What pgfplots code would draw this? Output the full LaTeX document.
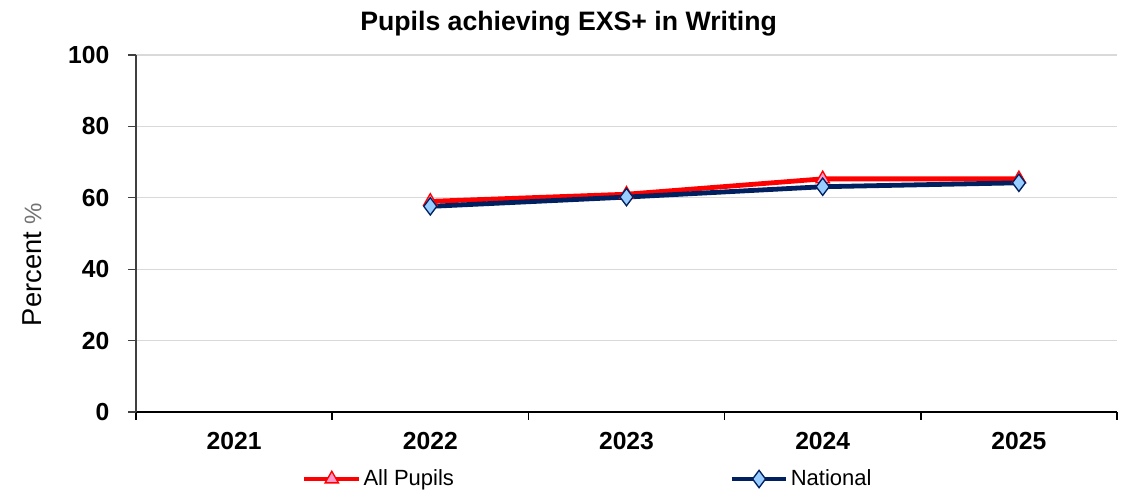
\documentclass[border=0pt]{standalone}
\usepackage{pgfplots}
\pgfplotsset{compat=1.18}
\usepackage{fontspec}
\setmainfont{Liberation Sans}
\definecolor{redline}{HTML}{FF0000}
\definecolor{navy}{HTML}{002060}
\definecolor{pinkfill}{HTML}{FF99CC}
\definecolor{lightblue}{HTML}{99CCFF}
\definecolor{gridgray}{HTML}{D9D9D9}
\begin{document}
\begin{tikzpicture}
\useasboundingbox (-102pt,-63pt) rectangle (753pt,309pt);
\begin{axis}[
  at={(0,0)}, anchor=south west,
  scale only axis,
  width=735.75pt, height=267.75pt,
  xmin=-0.5, xmax=4.5,
  ymin=0, ymax=100,
  ytick={0,20,...,100},
  xtick={-0.5,0.5,1.5,2.5,3.5,4.5},
  x tick label as interval,
  xticklabels={2021,2022,2023,2024,2025},
  axis lines=left,
  axis line style={-},
  x axis line style={black, line width=1.5pt},
  y axis line style={black!75, line width=0.9pt},
  tick align=outside,
  major tick length=6pt,
  every x tick/.style={draw=black, line width=1.2pt},
  every y tick/.style={draw=black!75, line width=0.9pt},
  ymajorgrids,
  grid style={gridgray, line width=0.9pt},
  /pgf/number format/assume math mode=true,
  ticklabel style={font=\fontsize{18.5}{22}\selectfont\bfseries},
  yticklabel style={xshift=-10.5pt},
  xticklabel style={yshift=-6pt},
  title={\fontsize{20}{24}\selectfont\bfseries Pupils achieving EXS+ in Writing},
  title style={at={(axis description cs:0.441,1.0476)}, anchor=base},
  ylabel={\fontsize{20.5}{24}\selectfont Percent {\color{black!55}\fontsize{18}{20}\selectfont \%}},
  ylabel style={at={(axis description cs:-0.106,0.413)}, anchor=center},
  legend columns=2,
  legend style={draw=none, fill=none, at={(axis description cs:0.169,-0.1877)}, anchor=west,
    font=\fontsize{16.5}{20}\selectfont, inner sep=0pt,
    nodes={inner xsep=1.5pt},
    /tikz/every even column/.append style={column sep=205pt}},
  legend image code/.code={\draw[mark repeat=2,mark phase=2,#1] plot coordinates {(0pt,0pt) (20.5pt,0pt) (41pt,0pt)};},
]
\addplot[redline, line width=3.6pt, mark=triangle*, mark size=5.8pt,
  mark options={fill=pinkfill, draw=redline, line width=1pt, solid}]
  coordinates {(1,59) (2,61) (3,65.3) (4,65.3)};
\addlegendentry{All Pupils}
\addplot[navy, line width=3.6pt, mark=diamond*, mark size=6.5pt,
  mark options={fill=lightblue, draw=navy, line width=1pt, solid}]
  coordinates {(1,57.6) (2,60.2) (3,63.1) (4,64.2)};
\addlegendentry{National}
\end{axis}
\end{tikzpicture}
\end{document}
